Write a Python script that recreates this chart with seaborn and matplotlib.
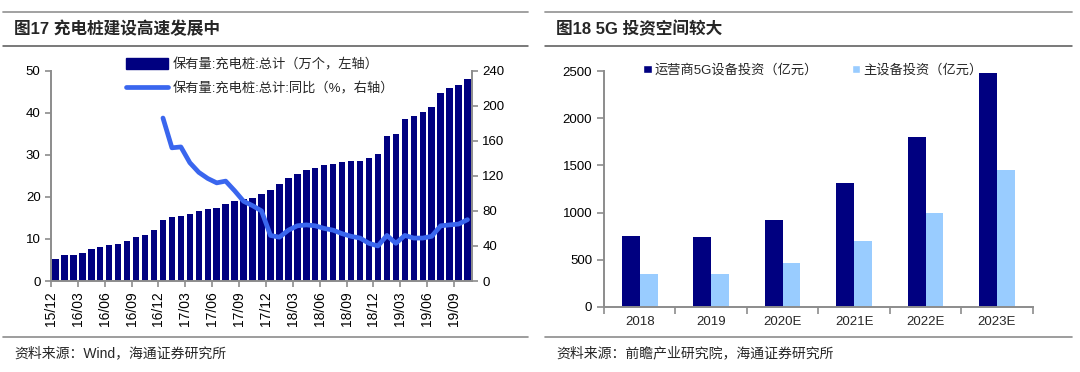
import pandas as pd
import seaborn as sns
import matplotlib.pyplot as plt
from matplotlib.lines import Line2D
from matplotlib.patches import Patch

sns.set_theme(style="ticks")
plt.rcParams['font.family'] = ['Liberation Sans', 'Noto Sans CJK SC', 'DejaVu Sans']
plt.rcParams['axes.unicode_minus'] = False

# 图17 数据：充电桩保有量（万个）及同比（%）
months = pd.date_range("2015-12-01", "2019-10-01", freq="MS").strftime("%y/%m").tolist()
piles = [5.2, 6.2, 6.2, 6.7, 7.7, 8.1, 8.5, 8.8, 9.5, 10.5, 10.9, 12.1,
         14.4, 15.1, 15.5, 15.9, 16.6, 17.0, 17.3, 18.4, 19.1, 19.4, 19.8, 20.7,
         21.6, 23.1, 24.6, 25.4, 26.4, 26.8, 27.5, 27.9, 28.3, 28.5, 28.5, 29.2,
         30.3, 34.4, 35.0, 38.6, 39.3, 40.2, 41.4, 44.8, 45.9, 46.7, 48.1]
yoy_start = "16/12"
yoy = [186, 152, 153, 135, 124, 117, 112, 114, 103, 91, 86, 80,
       52, 50, 58, 63, 64, 63, 60, 58, 54, 51, 49, 43,
       40, 52, 43, 52, 49, 49, 51, 63, 64, 65, 70]

# 图18 数据：5G 投资（亿元）
years = ["2018", "2019", "2020E", "2021E", "2022E", "2023E"]
operator_5g = [754, 740, 917, 1313, 1798, 2478]
main_equip = [350, 350, 460, 697, 991, 1455]
series_names = ["运营商5G设备投资（亿元）", "主设备投资（亿元）"]

NAVY = "#000080"
LINE_BLUE = "#3a66ee"
LIGHT = "#99ccff"
SPINE = "#8c8c8c"

fig = plt.figure(figsize=(10.8, 3.72), dpi=100)

# ---------- 左图 ----------
df1 = pd.DataFrame({"month": months, "piles": piles})
df1["pos"] = range(len(months))
start = months.index(yoy_start)
df_yoy = pd.DataFrame({"pos": df1["pos"].iloc[start:start + len(yoy)].values, "yoy": yoy})

ax1 = fig.add_axes([51 / 1080, 1 - 281 / 372, 421 / 1080, 210.3 / 372])
sns.barplot(data=df1, x="pos", y="piles", color=NAVY, width=0.72, saturation=1,
            edgecolor="none", linewidth=0, ax=ax1, native_scale=True)
ax1.set_xlim(-0.5, len(months) - 0.5)
ax1.set_ylim(0, 50)
ax1.set_yticks(range(0, 51, 10))
ax1.set_xticks([i - 0.5 for i in range(0, len(months), 3)])
ax1.set_xticklabels(months[::3], rotation=90, fontsize=10)
ax1.set_xlabel("")
ax1.set_ylabel("")

ax2 = ax1.twinx()
sns.lineplot(data=df_yoy, x="pos", y="yoy", color=LINE_BLUE, linewidth=3.4, ax=ax2)
ax2.set_ylim(0, 240)
ax2.set_yticks(range(0, 241, 40))
ax2.set_ylabel("")
ax2.set_xlim(-0.5, len(months) - 0.5)

for a in (ax1, ax2):
    a.spines["top"].set_visible(False)
    for s in a.spines.values():
        s.set_color(SPINE)
        s.set_linewidth(1.4)
    a.tick_params(colors=SPINE, labelcolor="black", labelsize=9.5, length=4, width=1.2)
ax1.spines["right"].set_visible(False)
ax2.spines["left"].set_visible(False)
ax2.spines["bottom"].set_visible(False)
ax1.tick_params(axis="x", labelsize=10)

fig.legend(handles=[Patch(facecolor=NAVY, edgecolor=NAVY),
                    Line2D([], [], color=LINE_BLUE, linewidth=3.4)],
           labels=["保有量:充电桩:总计（万个，左轴）", "保有量:充电桩:总计:同比（%，右轴）"],
           loc="upper left", bbox_to_anchor=(126 / 1080, 1 - 58 / 372),
           frameon=False, fontsize=9.5, handlelength=3.2, handleheight=0.9,
           handletextpad=0.3, labelspacing=0.85, borderpad=0, borderaxespad=0)

# ---------- 右图 ----------
df2 = pd.DataFrame({
    "year": years * 2,
    "series": [series_names[0]] * len(years) + [series_names[1]] * len(years),
    "value": operator_5g + main_equip,
})
ax3 = fig.add_axes([604 / 1080, 1 - 306.7 / 372, 428.7 / 1080, 235.5 / 372])
sns.barplot(data=df2, x="year", y="value", hue="series", order=years,
            palette=[NAVY, LIGHT], width=0.5, gap=0, saturation=1,
            edgecolor="none", linewidth=0, ax=ax3)
ax3.set_ylim(0, 2500)
ax3.set_yticks(range(0, 2501, 500))
ax3.set_xlim(-0.5, len(years) - 0.5)
ax3.set_xticks([i - 0.5 for i in range(len(years) + 1)], minor=True)
ax3.tick_params(axis="x", which="major", length=0, pad=7)
ax3.tick_params(axis="x", which="minor", length=5, width=1.2, colors=SPINE)
ax3.tick_params(axis="y", length=5, width=1.2, colors=SPINE, labelcolor="black")
ax3.tick_params(labelsize=9.5)
ax3.set_xlabel("")
ax3.set_ylabel("")
for side in ("top", "right"):
    ax3.spines[side].set_visible(False)
for side in ("left", "bottom"):
    ax3.spines[side].set_color(SPINE)
    ax3.spines[side].set_linewidth(1.4)
ax3.legend_.remove()
fig.legend(handles=[Patch(facecolor=NAVY), Patch(facecolor=LIGHT)], labels=series_names,
           loc="upper left", bbox_to_anchor=(643 / 1080, 1 - 64 / 372), ncol=2,
           frameon=False, fontsize=9.5, handlelength=0.65, handleheight=0.65,
           handletextpad=0.2, columnspacing=2.6, borderpad=0, borderaxespad=0)

# ---------- 标题、分隔线、资料来源 ----------
for x0, x1 in ((3 / 1080, 528 / 1080), (545 / 1080, 1072 / 1080)):
    fig.add_artist(Line2D([x0, x1], [1 - 11.7 / 372] * 2, color="#9a9a9a", lw=1.3))
    fig.add_artist(Line2D([x0, x1], [1 - 46 / 372] * 2, color="#555555", lw=1.1))
    fig.add_artist(Line2D([x0, x1], [1 - 336.7 / 372] * 2, color="#8c8c8c", lw=1.2))

fig.text(14 / 1080, 1 - 28.5 / 372, "图17 充电桩建设高速发展中", fontsize=12,
         fontweight="bold", va="center", ha="left")
fig.text(556 / 1080, 1 - 28.5 / 372, "图18 5G 投资空间较大", fontsize=12,
         fontweight="bold", va="center", ha="left")
fig.text(14 / 1080, 1 - 353 / 372, "资料来源：Wind，海通证券研究所", fontsize=10,
         va="center", ha="left")
fig.text(556 / 1080, 1 - 353 / 372, "资料来源：前瞻产业研究院，海通证券研究所", fontsize=10,
         va="center", ha="left")

fig.savefig("out.png", dpi=100)
